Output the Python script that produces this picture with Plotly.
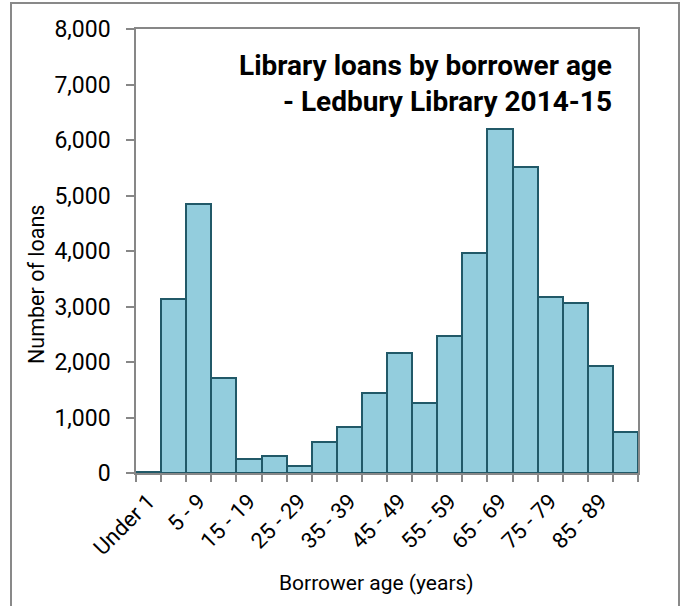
import plotly.graph_objects as go

age_groups = ["Under 1", "1 - 4", "5 - 9", "10 - 14", "15 - 19", "20 - 24", "25 - 29",
              "30 - 34", "35 - 39", "40 - 44", "45 - 49", "50 - 54", "55 - 59",
              "60 - 64", "65 - 69", "70 - 74", "75 - 79", "80 - 84", "85 - 89", "90 +"]
loans = [10, 3140, 4855, 1705, 245, 305, 135, 555, 835, 1450, 2165, 1265, 2460,
         3960, 6195, 5515, 3170, 3060, 1925, 730]

tick_text = [g if i % 2 == 0 else "" for i, g in enumerate(age_groups)]

FONT = "Roboto"
AXIS_GREY = "#878787"

fig = go.Figure()
fig.add_trace(go.Bar(
    x=age_groups, y=loans,
    marker=dict(color="#93CDDD", line=dict(color="#215968", width=2)),
    hoverinfo="x+y",
))

fig.update_layout(
    width=682, height=606,
    margin=dict(l=136, r=44, t=29, b=133),
    paper_bgcolor="white", plot_bgcolor="white",
    bargap=0, showlegend=False,
    font=dict(family=FONT, size=21, color="#000000"),
    xaxis=dict(
        type="category", automargin=False,
        tickmode="array", tickvals=age_groups, ticktext=tick_text,
        tickson="boundaries", ticks="outside", ticklen=7, tickcolor=AXIS_GREY, tickwidth=1.5,
        tickangle=-45, tickfont=dict(family=FONT, size=22), ticklabelstandoff=5,
        showline=True, linecolor=AXIS_GREY, linewidth=1.5, mirror=True,
        showgrid=False, zeroline=False,
    ),
    yaxis=dict(
        range=[0, 8000], dtick=1000, tickformat=",", automargin=False,
        ticks="outside", ticklen=8, tickcolor=AXIS_GREY, tickwidth=1.5,
        ticklabelstandoff=11,
        tickfont=dict(family=FONT, size=23),
        showline=True, linecolor=AXIS_GREY, linewidth=1.5, mirror=True,
        showgrid=False, zeroline=False,
    ),
    annotations=[
        dict(text="Library loans by borrower age<br>- Ledbury Library 2014-15",
             xref="paper", yref="paper", x=0.952, y=0.96,
             xanchor="right", yanchor="top", align="right", showarrow=False,
             font=dict(family=FONT, size=28, color="#000000", weight="bold")),
        dict(text="Number of loans", xref="paper", yref="paper",
             x=(36 - 136) / 502, y=(473 - 285) / 444, textangle=-90,
             xanchor="center", yanchor="middle", showarrow=False,
             font=dict(family=FONT, size=21.5)),
        dict(text="Borrower age (years)", xref="paper", yref="paper",
             x=(376 - 136) / 502, y=(473 - 583) / 444,
             xanchor="center", yanchor="middle", showarrow=False,
             font=dict(family=FONT, size=21)),
    ],
    shapes=[
        dict(type="rect", xref="paper", yref="paper",
             x0=(11 - 136) / 502, x1=(679 - 136) / 502,
             y0=(473 - 615) / 444, y1=(473 - 3) / 444,
             line=dict(color="#898989", width=2), fillcolor="rgba(0,0,0,0)", layer="below"),
    ],
)

fig.write_html("out.html", config={"displayModeBar": False},
               post_script="document.body.style.margin='0';document.body.style.overflow='hidden';")
